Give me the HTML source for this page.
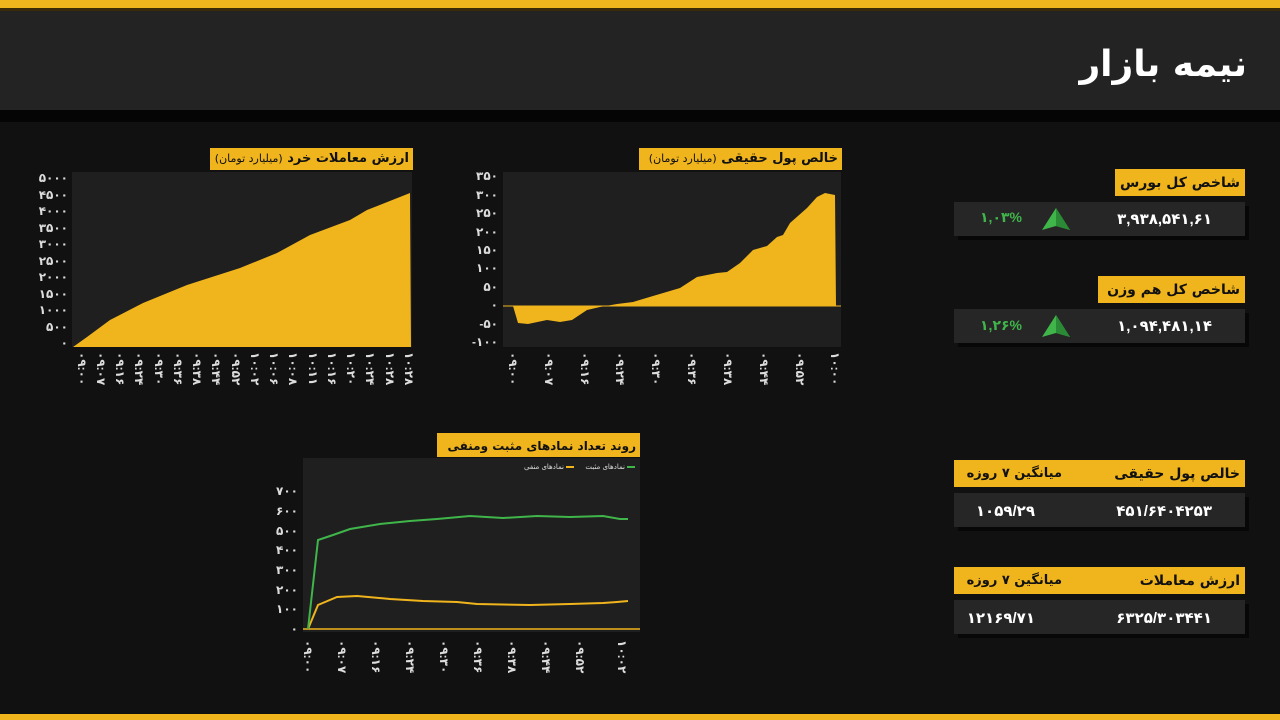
<!DOCTYPE html>
<html><head><meta charset="utf-8"><style>
html,body{margin:0;padding:0;width:1280px;height:720px;background:#111;overflow:hidden;font-family:"Liberation Sans","DejaVu Sans",sans-serif;}
svg{position:absolute;left:0;top:0}
.t{position:absolute;direction:rtl;text-align:right;white-space:nowrap;font-weight:bold;color:#111;font-family:"DejaVu Sans","Liberation Sans",sans-serif;}
.t small{font-weight:normal;font-size:11px}
</style></head><body>
<svg width="1280" height="720" viewBox="0 0 1280 720" font-family="Liberation Sans, DejaVu Sans, sans-serif">
<rect x="0" y="0" width="1280" height="720" fill="#111"/>
<rect x="0" y="0" width="1280" height="8" fill="#f0b41c"/>
<rect x="0" y="8" width="1280" height="3" fill="#3a2a08"/>
<rect x="0" y="11" width="1280" height="99" fill="#232323"/>
<rect x="0" y="110" width="1280" height="12" fill="#050505"/>
<rect x="0" y="714" width="1280" height="6" fill="#f0b41c"/>

<!-- Chart 1 -->
<rect x="72" y="172" width="340" height="175" fill="#1f1f1f"/>
<path d="M73,347 L87,337 L110,320 L143,303 L187,285 L240,268 L277,253 L310,235 L350,220 L367,210 L410,193 L411,347 Z" fill="#f0b41c"/>
<rect x="210" y="148" width="203" height="22" fill="#f0b41c"/>
<g font-size="12" fill="#ddd" text-anchor="end" font-weight="bold">
<text x="68" y="347">۰</text><text x="68" y="331">۵۰۰</text><text x="68" y="314">۱۰۰۰</text><text x="68" y="298">۱۵۰۰</text><text x="68" y="281">۲۰۰۰</text><text x="68" y="265">۲۵۰۰</text><text x="68" y="248">۳۰۰۰</text><text x="68" y="232">۳۵۰۰</text><text x="68" y="215">۴۰۰۰</text><text x="68" y="199">۴۵۰۰</text><text x="68" y="182">۵۰۰۰</text>
</g>
<g font-size="12" fill="#ddd" font-weight="bold">
<text transform="translate(78,352) rotate(90)">۰۹:۰۰</text><text transform="translate(97,352) rotate(90)">۰۹:۰۷</text><text transform="translate(116,352) rotate(90)">۰۹:۱۶</text><text transform="translate(135,352) rotate(90)">۰۹:۲۴</text><text transform="translate(155,352) rotate(90)">۰۹:۳۰</text><text transform="translate(174,352) rotate(90)">۰۹:۳۶</text><text transform="translate(193,352) rotate(90)">۰۹:۳۸</text><text transform="translate(212,352) rotate(90)">۰۹:۴۴</text><text transform="translate(232,352) rotate(90)">۰۹:۵۲</text><text transform="translate(251,352) rotate(90)">۱۰:۰۲</text><text transform="translate(270,352) rotate(90)">۱۰:۰۶</text><text transform="translate(289,352) rotate(90)">۱۰:۰۸</text><text transform="translate(309,352) rotate(90)">۱۰:۱۱</text><text transform="translate(328,352) rotate(90)">۱۰:۱۶</text><text transform="translate(347,352) rotate(90)">۱۰:۲۰</text><text transform="translate(366,352) rotate(90)">۱۰:۲۴</text><text transform="translate(386,352) rotate(90)">۱۰:۲۸</text><text transform="translate(405,352) rotate(90)">۱۰:۲۸</text>
</g>

<!-- Chart 2 -->
<rect x="503" y="172" width="338" height="175" fill="#1f1f1f"/>
<path d="M503,306 L513,306 L518,323 L528,324 L547,320 L560,322 L572,320 L587,310 L600,307 L617,304 L633,302 L653,296 L680,288 L697,277 L717,273 L727,272 L740,263 L753,250 L767,246 L777,237 L783,235 L790,223 L807,208 L817,197 L825,193 L835,195 L836,306 Z" fill="#f0b41c"/>
<line x1="503" y1="306" x2="841" y2="306" stroke="#f0b41c" stroke-width="1"/>
<rect x="639" y="148" width="203" height="22" fill="#f0b41c"/>
<g font-size="12" fill="#ddd" text-anchor="end" font-weight="bold">
<text x="498" y="180">۳۵۰</text><text x="498" y="199">۳۰۰</text><text x="498" y="217">۲۵۰</text><text x="498" y="236">۲۰۰</text><text x="498" y="254">۱۵۰</text><text x="498" y="272">۱۰۰</text><text x="498" y="291">۵۰</text><text x="498" y="309">۰</text><text x="498" y="328">-۵۰</text><text x="498" y="346">-۱۰۰</text>
</g>
<g font-size="12" fill="#ddd" font-weight="bold">
<text transform="translate(509,352) rotate(90)">۰۹:۰۰</text><text transform="translate(545,352) rotate(90)">۰۹:۰۷</text><text transform="translate(581,352) rotate(90)">۰۹:۱۶</text><text transform="translate(616,352) rotate(90)">۰۹:۲۴</text><text transform="translate(652,352) rotate(90)">۰۹:۳۰</text><text transform="translate(688,352) rotate(90)">۰۹:۳۶</text><text transform="translate(724,352) rotate(90)">۰۹:۳۸</text><text transform="translate(760,352) rotate(90)">۰۹:۴۴</text><text transform="translate(796,352) rotate(90)">۰۹:۵۲</text><text transform="translate(831,352) rotate(90)">۱۰:۰۰</text>
</g>

<!-- Chart 3 -->
<rect x="303" y="458" width="337" height="174" fill="#1f1f1f"/>
<rect x="437" y="433" width="203" height="24" fill="#f0b41c"/>
<line x1="303" y1="629" x2="640" y2="629" stroke="#f0b41c" stroke-width="1.5"/>
<polyline fill="none" stroke="#f0b41c" stroke-width="2" points="308,629 318,605 337,597 357,596 390,599 423,601 457,602 477,604 530,605 570,604 603,603 617,602 628,601"/>
<polyline fill="none" stroke="#3fb54a" stroke-width="2" points="308,629 318,540 333,535 350,529 380,524 410,521 437,519 470,516 503,518 537,516 570,517 603,516 620,519 628,519"/>
<line x1="627" y1="467" x2="635" y2="467" stroke="#3fb54a" stroke-width="2"/>
<line x1="566" y1="467" x2="574" y2="467" stroke="#f0b41c" stroke-width="2"/>
<g font-size="12" fill="#ddd" text-anchor="end" font-weight="bold">
<text x="298" y="633">۰</text><text x="298" y="613">۱۰۰</text><text x="298" y="594">۲۰۰</text><text x="298" y="574">۳۰۰</text><text x="298" y="554">۴۰۰</text><text x="298" y="535">۵۰۰</text><text x="298" y="515">۶۰۰</text><text x="298" y="495">۷۰۰</text>
</g>
<g font-size="12" fill="#ddd" font-weight="bold">
<text transform="translate(304,640) rotate(90)">۰۹:۰۰</text><text transform="translate(338,640) rotate(90)">۰۹:۰۷</text><text transform="translate(372,640) rotate(90)">۰۹:۱۶</text><text transform="translate(406,640) rotate(90)">۰۹:۲۴</text><text transform="translate(440,640) rotate(90)">۰۹:۳۰</text><text transform="translate(474,640) rotate(90)">۰۹:۳۶</text><text transform="translate(508,640) rotate(90)">۰۹:۳۸</text><text transform="translate(542,640) rotate(90)">۰۹:۴۴</text><text transform="translate(576,640) rotate(90)">۰۹:۵۲</text><text transform="translate(618,640) rotate(90)">۱۰:۰۲</text>
</g>

<!-- Right panels -->
<rect x="958" y="206" width="291" height="34" fill="#070707"/>
<rect x="954" y="202" width="291" height="34" fill="#262626"/>
<rect x="1115" y="169" width="130" height="27" fill="#f0b41c"/>
<text x="1212" y="224" text-anchor="end" font-size="15" font-weight="bold" fill="#fff">۳,۹۳۸,۵۴۱,۶۱</text>
<polygon points="1056,208 1042,230 1056,226 1070,230" fill="#3fb54a"/><polygon points="1056,208 1056,226 1070,230" fill="#2a8a35"/>
<text x="1022" y="222" text-anchor="end" font-size="14" font-weight="bold" fill="#3fb54a">۱,۰۳%</text>

<rect x="958" y="313" width="291" height="34" fill="#070707"/>
<rect x="954" y="309" width="291" height="34" fill="#262626"/>
<rect x="1098" y="276" width="147" height="27" fill="#f0b41c"/>
<text x="1212" y="331" text-anchor="end" font-size="15" font-weight="bold" fill="#fff">۱,۰۹۴,۴۸۱,۱۴</text>
<polygon points="1056,315 1042,337 1056,333 1070,337" fill="#3fb54a"/><polygon points="1056,315 1056,333 1070,337" fill="#2a8a35"/>
<text x="1022" y="330" text-anchor="end" font-size="14" font-weight="bold" fill="#3fb54a">۱,۲۶%</text>

<rect x="958" y="497" width="291" height="34" fill="#070707"/>
<rect x="954" y="493" width="291" height="34" fill="#262626"/>
<rect x="954" y="460" width="291" height="27" fill="#f0b41c"/>
<text x="1212" y="516" text-anchor="end" font-size="15" font-weight="bold" fill="#fff">۴۵۱/۶۴۰۴۲۵۳</text>
<text x="1035" y="516" text-anchor="end" font-size="15" font-weight="bold" fill="#fff">۱۰۵۹/۲۹</text>

<rect x="958" y="604" width="291" height="34" fill="#070707"/>
<rect x="954" y="600" width="291" height="34" fill="#262626"/>
<rect x="954" y="567" width="291" height="27" fill="#f0b41c"/>
<text x="1212" y="623" text-anchor="end" font-size="15" font-weight="bold" fill="#fff">۶۳۲۵/۳۰۳۴۴۱</text>
<text x="1035" y="623" text-anchor="end" font-size="15" font-weight="bold" fill="#fff">۱۲۱۶۹/۷۱</text>
</svg>

<div class="t" style="right:33px;top:40px;font-size:36px;color:#fff;line-height:50px">نیمه بازار</div>

<div class="t" style="right:871px;top:149px;font-size:13px;line-height:20px">ارزش معاملات خرد <small>(میلیارد تومان)</small></div>
<div class="t" style="right:442px;top:149px;font-size:13px;line-height:20px">خالص پول حقیقی <small>(میلیارد تومان)</small></div>
<div class="t" style="right:644px;top:436px;font-size:12px;line-height:20px">روند تعداد نمادهای مثبت ومنفی</div>
<div class="t" style="right:655px;top:462px;font-size:7px;line-height:10px;color:#ddd;font-weight:normal">نمادهای مثبت</div>
<div class="t" style="right:716px;top:462px;font-size:7px;line-height:10px;color:#ddd;font-weight:normal">نمادهای منفی</div>

<div class="t" style="right:40px;top:172px;font-size:14px;line-height:22px">شاخص کل بورس</div>
<div class="t" style="right:40px;top:279px;font-size:14px;line-height:22px">شاخص کل هم وزن</div>
<div class="t" style="right:40px;top:463px;font-size:14px;line-height:22px">خالص پول حقیقی</div>
<div class="t" style="right:218px;top:463px;font-size:13px;line-height:22px">میانگین ۷ روزه</div>
<div class="t" style="right:40px;top:570px;font-size:14px;line-height:22px">ارزش معاملات</div>
<div class="t" style="right:218px;top:570px;font-size:13px;line-height:22px">میانگین ۷ روزه</div>
</body></html>
